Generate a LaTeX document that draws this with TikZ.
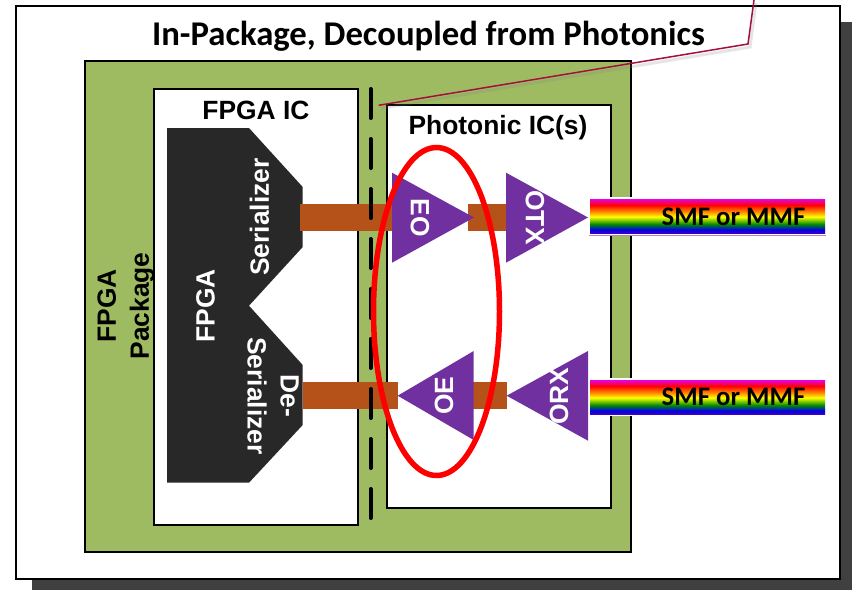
\documentclass[tikz,border=0pt]{standalone}
\usepackage{xcolor}
\usepackage{fontspec}
\setmainfont{Liberation Sans}
\newfontfamily\titlefont{Carlito}
\usetikzlibrary{arrows.meta, shapes.geometric}

\definecolor{pkggreen}{HTML}{9FBB62}
\definecolor{linkbrown}{HTML}{B5521A}
\definecolor{triviolet}{HTML}{7030A0}
\definecolor{chipblack}{HTML}{282828}
\definecolor{shadowgray}{HTML}{404040}
\definecolor{calloutred}{HTML}{A50F3F}
\definecolor{ovalred}{HTML}{FF0000}

% the middle 50bp of the shading is what lands on the bar
\pgfdeclareverticalshading{rainbowbar}{100bp}{
  color(0bp)=(blue!60!violet);
  color(25bp)=(blue!60!violet);
  color(30bp)=(blue!90!black);
  color(38bp)=(green!55!black);
  color(49bp)=(yellow);
  color(57bp)=(orange);
  color(66bp)=(red);
  color(75bp)=(magenta!80!violet);
  color(100bp)=(magenta!80!violet)}

\begin{document}
\begin{tikzpicture}[x=1pt, y=-1pt, line width=2pt,
    boxlabel/.style={font=\bfseries\fontsize{26.4}{33}\selectfont, align=center, inner sep=0pt},
    chiplabel/.style={boxlabel, text=white},
    fiberlabel/.style={font=\titlefont\bfseries\fontsize{26.8}{30}\selectfont, inner sep=0pt},
    linkbar/.style={linkbrown, line width=27pt},
    trifill/.style={fill=triviolet}]
    \useasboundingbox (0,0) rectangle (852,590);

    % outer frame with its shadow
    \fill[shadowgray] (32,22) rectangle (852,590);
    \draw[fill=white] (16,6) rectangle (840,579);
    \node[font=\titlefont\bfseries\fontsize{34.7}{40}\selectfont, inner sep=0pt] (title) at (428.5,36.5) {In-Package, Decoupled from Photonics};

    % package and the two dies
    \draw[fill=pkggreen] (85,61) rectangle (631,552);
    \draw[fill=white] (153.5,88.5) rectangle (358,524.5);
    \draw[fill=white] (387,105) rectangle (610.5,508);
    \node[boxlabel, rotate=90] (pkglabel) at (126,306) {FPGA\\Package};
    \node[boxlabel] (fpgaic) at (256,110) {FPGA IC};
    \node[boxlabel] (photic) at (498,128) {Photonic IC(s)};

    % FPGA block
    \fill[chipblack] (167,128) -- (249,128) -- (302.7,187) -- (302.7,247) -- (249,305.7)
        -- (302.7,365) -- (302.7,425) -- (249,482.7) -- (167,482.7) -- cycle;
    \node[chiplabel, rotate=90] (fpga) at (205.5,306) {FPGA};
    \node[chiplabel, rotate=90] (ser) at (259.5,217) {Serializer};
    \node[chiplabel, rotate=-90] (deser) at (273,396) {De-\\Serializer};

    % points where the links meet the blocks
    \coordinate (serOut) at (300,217.5);
    \coordinate (eoIn) at (392,217.5);
    \coordinate (eoOut) at (468,217.5);
    \coordinate (otxIn) at (506,217.5);
    \coordinate (deserIn) at (302.7,395.5);
    \coordinate (oeOut) at (397.7,395.5);
    \coordinate (oeIn) at (473,395.5);
    \coordinate (orxOut) at (507,395.5);

    % brown links
    \draw[linkbar] (serOut) -- (eoIn);
    \draw[linkbar] (eoOut) -- (otxIn);
    \draw[linkbar] (deserIn) -- (oeOut);
    \draw[linkbar] (oeIn) -- (orxOut);

    % die boundary
    \draw[line width=4pt, line cap=round, dash pattern=on 29pt off 21pt] (370.6,89) -- (370.6,518);

    % triangles
    \fill[trifill] (392,172.7) -- (392,262.7) -- (474,217.5) -- cycle;
    \fill[trifill] (506,172.7) -- (506,262.7) -- (588,217.5) -- cycle;
    \fill[trifill] (473.7,351) -- (473.7,440) -- (397.7,395.7) -- cycle;
    \fill[trifill] (588,351) -- (588,440.7) -- (506.7,395.7) -- cycle;
    \node[chiplabel, rotate=-90] (eo) at (420,218) {EO};
    \node[chiplabel, rotate=-90] (otx) at (535,217.5) {OTX};
    \node[chiplabel, rotate=90] (oe) at (444,395.5) {OE};
    \node[chiplabel, rotate=90] (orx) at (559,396) {ORX};

    % fibers
    \fill[white] (590,197) rectangle (826,235);
    \draw[violet!50, line width=0.8pt] (589,235.2) -- (826,235.2);
    \shade[shading=rainbowbar] (590,199) rectangle (825,233);
    \fill[white] (590,378) rectangle (826,416);
    \shade[shading=rainbowbar] (590,380) rectangle (825,414);
    \node[fiberlabel] (smftop) at (733.5,217) {SMF or MMF};
    \node[fiberlabel] (smfbot) at (733.5,397) {SMF or MMF};

    % red oval
    \node[draw=ovalred, line width=5.5pt, ellipse, minimum width=126pt, minimum height=328pt, inner sep=0pt] (oval) at (436.5,311.5) {};

    % callout line
    \coordinate (calloutTip) at (378.7,105.3);
    \coordinate (calloutBend) at (748,44);
    \coordinate (calloutEnd) at (754,0);
    \draw[gray, opacity=.2, line width=3pt] ([shift={(2,3)}]calloutTip) -- ([shift={(2,3)}]calloutBend) -- ([shift={(2,3)}]calloutEnd);
    \draw[calloutred, line width=1.5pt] (calloutTip) -- (calloutBend) -- (calloutEnd);
\end{tikzpicture}
\end{document}
